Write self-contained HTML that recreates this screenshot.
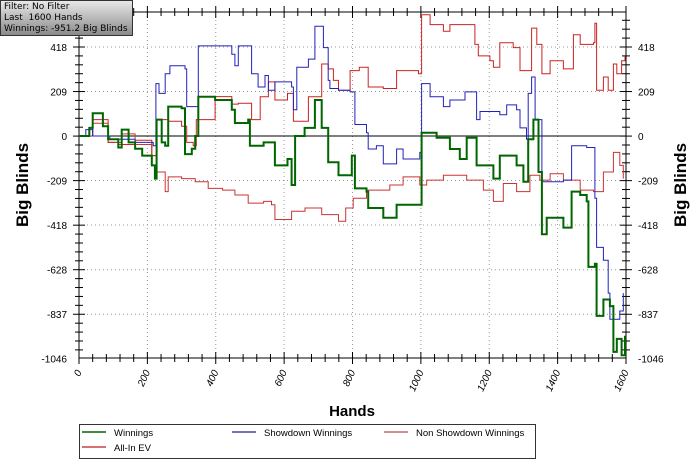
<!DOCTYPE html>
<html><head><meta charset="utf-8"><style>
body{margin:0;background:#fff;width:700px;height:464px;overflow:hidden;font-family:"Liberation Sans",sans-serif}
#info{position:absolute;left:0px;top:0px;width:133px;height:36px;border:1px solid #333;background:linear-gradient(#e8e8e8,#8a8a8a);font-family:"DejaVu Sans",sans-serif;font-size:9px;line-height:11px;padding:1px 0 0 3px;box-sizing:border-box;white-space:nowrap;overflow:hidden}
</style></head><body>
<svg id="chart" width="700" height="464" style="position:absolute;left:0;top:0"></svg>
<div id="info">Filter: No Filter<br>Last&nbsp; 1600 Hands<br>Winnings: -951.2 Big Blinds</div>
<script>
const yTicks=[418,209,0,-209,-418,-628,-837,-1046];
const xTicks=[0,200,400,600,800,1000,1200,1400,1600];
const winH=[0,30,40,70,85,115,125,145,164,185,213,222,227,242,252,261,300,310,330,340,349,398,447,456,495,500,540,573,610,622,632,660,690,710,729,759,798,807,841,846,890,929,997,1002,1046,1085,1114,1134,1163,1212,1231,1280,1300,1314,1329,1344,1354,1368,1417,1441,1466,1485,1490,1509,1514,1534,1553,1563,1573,1587,1597];
const winV=[0,38,107,46,-15,-54,30,-30,-60,-92,-138,-200,77,-30,-46,138,130,-85,-60,0,184,169,123,61,77,-46,-30,-138,-108,-230,0,38,169,38,-123,-184,-92,-246,-261,-338,-384,-323,-323,15,-8,-61,-108,-8,-138,-200,-92,-138,-215,-15,77,-169,-461,-384,-430,-261,-277,-307,-615,-600,-845,-768,-799,-1014,-953,-1030,-938];
const sdH=[0,20,40,90,164,217,225,234,252,266,310,315,334,349,447,456,466,505,524,544,554,573,622,627,637,671,690,715,729,734,759,793,807,841,846,870,890,929,948,997,1002,1027,1066,1085,1129,1163,1173,1231,1251,1280,1290,1309,1314,1324,1334,1354,1417,1441,1485,1509,1514,1534,1548,1553,1582,1592];
const sdV=[0,30,0,-15,-30,-46,246,200,292,330,315,138,138,423,384,330,423,292,230,284,215,254,230,123,323,361,515,415,261,223,215,207,54,15,-61,-46,-131,-61,-108,-77,246,184,138,169,207,77,115,100,146,123,38,-15,200,277,77,-215,-207,-46,-54,-292,-523,-584,-738,-861,-822,-738];
const nsdH=[0,40,85,125,164,213,227,252,261,300,340,378,420,456,495,540,563,573,622,661,710,759,780,802,841,909,948,997,1017,1066,1134,1183,1212,1241,1280,1319,1348,1378,1417,1466,1505,1534,1563,1582,1592];
const nsdV=[0,60,-30,10,-40,-92,-169,-261,-192,-200,-215,-246,-254,-277,-315,-307,-323,-392,-353,-338,-369,-400,-338,-292,-254,-230,-192,-230,-207,-184,-207,-254,-307,-223,-261,-184,-207,-177,-207,-254,-261,-169,-77,-138,-200];
const evH=[0,40,85,115,164,213,227,261,300,315,334,343,398,447,466,505,530,554,573,610,627,671,710,729,744,759,793,820,846,890,929,993,1002,1027,1066,1085,1129,1158,1168,1202,1212,1231,1270,1290,1324,1339,1354,1378,1417,1446,1466,1505,1509,1514,1534,1548,1563,1573,1587,1597];
const evV=[0,77,-30,-40,-20,-92,77,69,46,-30,-46,77,185,150,154,77,184,254,169,200,69,184,338,315,261,215,307,323,230,223,307,292,569,523,492,523,523,430,376,353,323,438,415,307,507,430,292,353,315,476,430,438,530,215,277,215,338,292,353,376];
const NS='http://www.w3.org/2000/svg';
const svg=document.getElementById('chart');
const L=79,R=626,T=12,B=358;
const X=h=>L+h*(R-L)/1600;
const Y=v=>136-v*89/418;
function el(t,a){const e=document.createElementNS(NS,t);for(const k in a)e.setAttribute(k,a[k]);svg.appendChild(e);return e;}
xTicks.forEach(t=>{if(t>0&&t<1600){const g=el('line',{x1:X(t),x2:X(t),y1:T,y2:B,stroke:'#999','stroke-dasharray':'1,3'});

}});
yTicks.forEach(t=>{if(t!==0&&t>-1046){const g=el('line',{x1:L,x2:R,y1:Y(t),y2:Y(t),stroke:'#999','stroke-dasharray':'1,3'});

}});
const z=el('line',{x1:L,x2:R,y1:Y(0),y2:Y(0),stroke:'#000'});


const fr=el('rect',{x:L,y:T,width:R-L,height:B-T,fill:'none',stroke:'#000'});


const ystep=209.2/5;
for(let v=418+ystep*3;v>=-1046-0.1;v-=ystep){const y=Y(v);if(y<T)continue;
const major=Math.abs(Math.round((v)/ystep))%5===0;const w=major?6:4;
el('line',{x1:L-w,x2:L+w,y1:y,y2:y,stroke:'#000'});el('line',{x1:R-w,x2:R+w,y1:y,y2:y,stroke:'#000'});}
yTicks.forEach(t=>{
const a=el('text',{x:L-12,y:Y(t)+4,'text-anchor':'end','font-size':10});a.textContent=t;


const b=el('text',{x:R+12,y:Y(t)+4,'text-anchor':'start','font-size':10});b.textContent=t;

});
for(let h=0;h<=1600;h+=40){const major=h%200===0;const w=major?6:4;
el('line',{x1:X(h),x2:X(h),y1:B-w,y2:B+w,stroke:'#000'});el('line',{x1:X(h),x2:X(h),y1:T-w,y2:T+w,stroke:'#000'});}
xTicks.forEach(t=>{const a=el('text',{x:X(t)+3,y:372,'text-anchor':'end','font-size':10,'font-style':'italic',transform:`rotate(-65 ${X(t)+3} 372)`});a.textContent=t;

});
function step(H,V,color,w,name){let d='';H.forEach((h,i)=>{d+=(i?`H${X(h).toFixed(1)}V${Y(V[i]).toFixed(1)}`:`M${X(h).toFixed(1)},${Y(V[i]).toFixed(1)}`)});
const p=el('path',{d:d,fill:'none',stroke:color,'stroke-width':w});

}
step(nsdH,nsdV,'#cc3333',1,'non-showdown-winnings-line');
step(evH,evV,'#cc2222',1,'all-in-ev-line');
step(sdH,sdV,'#2222bb',1,'showdown-winnings-line');
step(winH,winV,'#006600',2,'winnings-line');
const yt=el('text',{x:28,y:185,'text-anchor':'middle','font-size':17,'font-weight':'bold',transform:'rotate(-90 28 185)'});yt.textContent='Big Blinds';


const yt2=el('text',{x:686,y:185,'text-anchor':'middle','font-size':17,'font-weight':'bold',transform:'rotate(-90 686 185)'});yt2.textContent='Big Blinds';


const xt=el('text',{x:352,y:416,'text-anchor':'middle','font-size':15,'font-weight':'bold'});xt.textContent='Hands';


const lg=el('rect',{x:79.5,y:424.5,width:456,height:34,fill:'#fff',stroke:'#333'});


const legend=[['Winnings','#006600',82,432],['Showdown Winnings','#4444aa',232,432],['Non Showdown Winnings','#cc6666',384,432],['All-In EV','#cc4444',82,447]];
legend.forEach(([n,c,x,y])=>{el('line',{x1:x,x2:x+24,y1:y,y2:y,stroke:c,'stroke-width':1.5});
const t=el('text',{x:x+32,y:y+4,'font-size':9.5});t.textContent=n;

});
</script>
</body></html>
